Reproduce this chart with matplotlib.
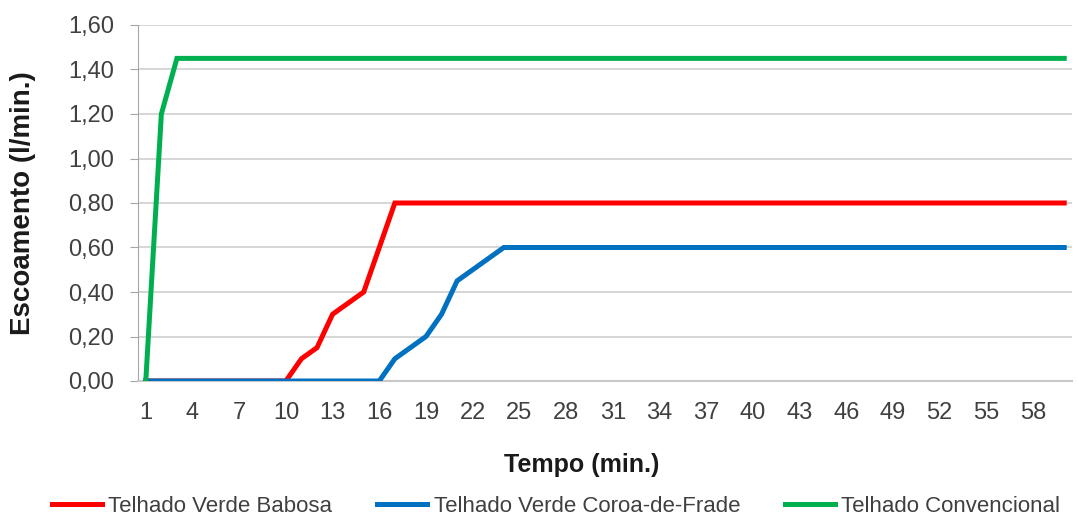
import numpy as np
from matplotlib import pyplot as plt

plt.rcParams['font.family'] = ['Liberation Sans', 'DejaVu Sans']

minutos = np.arange(1, 61)
# escoamento (l/min.) ate estabilizar; depois constante
babosa_ini = [0, 0, 0, 0, 0, 0, 0, 0, 0, 0, 0.10, 0.15, 0.30, 0.35, 0.40, 0.60, 0.80]
coroa_ini = [0, 0, 0, 0, 0, 0, 0, 0, 0, 0, 0, 0, 0, 0, 0, 0, 0.10, 0.15, 0.20, 0.30, 0.45, 0.50, 0.55, 0.60]
convencional_ini = [0, 1.20, 1.45]

babosa = babosa_ini + [0.80] * (60 - len(babosa_ini))
coroa = coroa_ini + [0.60] * (60 - len(coroa_ini))
convencional = convencional_ini + [1.45] * (60 - len(convencional_ini))

series = [
    ('Telhado Verde Babosa', babosa, '#ff0000'),
    ('Telhado Verde Coroa-de-Frade', coroa, '#0070c0'),
    ('Telhado Convencional', convencional, '#00b050'),
]

W, H = 1078, 519
fig = plt.figure(figsize=(W / 100, H / 100), dpi=100)
ax = fig.add_axes([138 / W, 1 - 381 / H, (1072 - 138) / W, (381 - 25) / H])

for nome, vals, cor in series:
    ax.plot(minutos, vals, color=cor, lw=3.6, label=nome, solid_joinstyle='miter', zorder=3)

ax.set_xlim(0.5, 60.5)
ax.set_ylim(0, 1.6)
yt = np.arange(0, 1.61, 0.2)
ax.set_yticks(yt)
ax.set_yticklabels([f'{v:.2f}'.replace('.', ',') for v in yt])
ax.set_xticks(minutos[::3])
ax.set_xticklabels([str(m) for m in minutos[::3]])
ax.grid(axis='y', color='#d0d0d0', lw=1.2)
ax.set_axisbelow(True)

for s in ['top', 'right']:
    ax.spines[s].set_visible(False)
ax.spines['left'].set_color('#a6a6a6')
ax.spines['bottom'].set_color('#c8c8c8')
ax.spines['bottom'].set_linewidth(1.5)
ax.tick_params(axis='y', length=6, color='#a6a6a6', labelsize=17, labelcolor='#404040', pad=11)
ax.tick_params(axis='x', length=0, labelsize=17, labelcolor='#404040', pad=15)

fig.text(23 / W, 1 - 203 / H, 'Escoamento (l/min.)', rotation=90, ha='center', va='center',
         fontsize=20, fontweight='bold', color='#1a1a1a')
fig.text(582 / W, 1 - 465 / H, 'Tempo (min.)', ha='center', va='center',
         fontsize=18, fontweight='bold', color='#1a1a1a')

fig.legend(loc='center', bbox_to_anchor=(556 / W, 1 - 506 / H), ncol=3, frameon=False,
           fontsize=16, handlelength=2.25, columnspacing=2.0, handletextpad=0.3,
           labelcolor='#404040', borderpad=0)

fig.savefig('out.png', dpi=100)
